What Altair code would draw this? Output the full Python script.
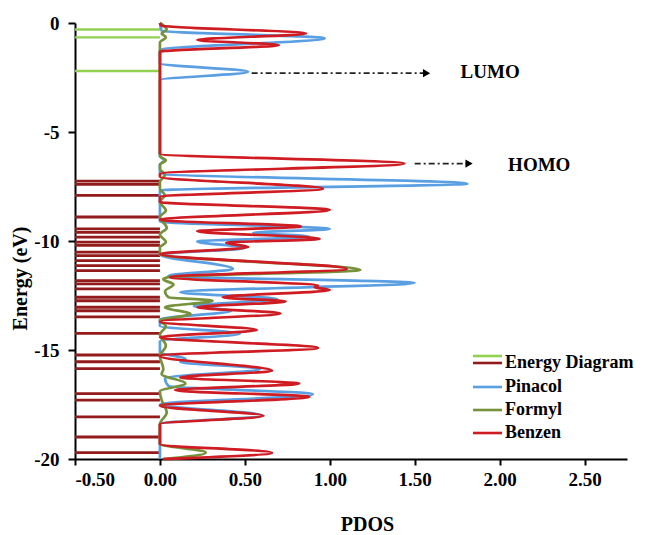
import altair as alt
import pandas as pd

# ---------------- data ----------------
# Energy diagram levels (eV)
lumo_levels = [-0.30, -0.66, -2.20]
homo_levels = [-7.25, -7.40, -7.91, -8.90, -9.44, -9.60, -9.82, -10.05, -10.20,
               -10.51, -10.67, -10.90, -11.13, -11.36, -11.82, -11.97, -12.20,
               -12.58, -12.74, -13.04, -13.20, -13.48, -14.24, -15.23, -15.54,
               -15.85, -17.00, -17.30, -18.07, -18.99, -19.71]

# PDOS curves: energy (eV) and PDOS value at peaks / valleys
pinacol_e = [0.0, -0.35, -0.70, -1.24, -1.85, -2.24, -2.62, -6.10, -6.30, -6.50,
             -6.90, -7.37, -7.68, -9.10, -9.45, -9.62, -9.80, -10.02, -10.32,
             -10.62, -11.28, -11.60, -11.92, -12.35, -12.66, -12.98, -13.20,
             -13.60, -13.90, -14.25, -14.60, -15.10, -15.42, -15.55, -15.87,
             -16.30, -16.65, -17.03, -17.50, -18.00, -18.40, -20.00]
pinacol_p = [0.0, 0.01, 0.97, 0.0, 0.0, 0.52, 0.0, 0.0, 0.025, 0.0,
             0.0, 1.81, 0.0, 0.0, 1.00, 0.55, 0.88, 0.22, 0.50,
             0.0, 0.43, 0.05, 1.50, 0.12, 0.69, 0.20, 0.42,
             0.0, 0.0, 0.47, 0.0, 0.0, 0.15, 0.12, 0.59,
             0.03, 0.05, 0.90, 0.0, 0.60, 0.0, 0.0]

formyl_e = [0.0, -0.30, -0.48, -0.65, -0.90, -6.10, -6.30, -6.50, -6.70, -6.95,
            -7.30, -7.60, -7.90, -8.20, -8.60, -8.90, -9.40, -9.70, -10.05,
            -10.30, -10.60, -11.33, -11.66, -11.75, -12.00, -12.30, -12.58,
            -12.74, -13.04, -13.35, -13.65, -13.90, -14.30, -14.80, -15.27,
            -15.88, -16.10, -16.54, -16.90, -17.30, -17.87, -18.40, -19.30,
            -19.71, -20.00]
formyl_p = [0.0, 0.04, 0.01, 0.035, 0.0, 0.0, 0.035, 0.0, 0.0, 0.03,
            0.0, 0.0, 0.03, 0.0, 0.035, 0.0, 0.04, 0.0, 0.035,
            0.0, 0.0, 1.18, 0.05, 0.02, 0.08, 0.03, 0.05,
            0.31, 0.03, 0.18, 0.0, 0.035, 0.0, 0.035, 0.0,
            0.02, 0.01, 0.15, 0.0, 0.01, 0.04, 0.0, 0.0,
            0.27, 0.02]

benzen_e = [0.0, -0.12, -0.48, -0.78, -1.01, -1.32, -6.00, -6.45, -6.92, -7.05,
            -7.60, -7.98, -8.21, -8.57, -9.03, -9.33, -9.55, -9.90, -10.08,
            -10.28, -10.60, -11.28, -11.66, -12.05, -12.12, -12.25, -12.58,
            -12.77, -13.04, -13.32, -13.70, -14.08, -14.42, -14.91, -15.27,
            -15.95, -16.26, -16.54, -16.84, -17.15, -17.56, -18.02, -18.40,
            -19.32, -19.71, -20.00]
benzen_p = [0.0, 0.01, 0.86, 0.22, 0.70, 0.0, 0.0, 1.44, 0.0, 0.0,
            0.96, 0.0, 0.0, 1.00, 0.0, 0.83, 0.22, 0.94, 0.39,
            0.52, 0.0, 1.10, 0.06, 0.93, 0.91, 1.00, 0.37,
            0.74, 0.22, 0.71, 0.0, 0.57, 0.0, 0.93, 0.0,
            0.66, 0.12, 0.82, 0.09, 0.88, 0.0, 0.61, 0.0,
            0.0, 0.66, 0.02]

x_ticks = [-0.5, 0.0, 0.5, 1.0, 1.5, 2.0, 2.5]
y_ticks = [0, -5, -10, -15, -20]

legend_labels = ["Energy Diagram", "Pinacol", "Formyl", "Benzen"]

# ---------------- style ----------------
FONT = "Liberation Serif"
C_LUMO = "#92D050"
C_HOMO = "#931B1B"
C_PIN = "#5B9FE3"
C_FOR = "#76923C"
C_BEN = "#CF1B22"

x_scale = alt.Scale(domain=[-0.5, 2.75], nice=False, zero=False)
y_scale = alt.Scale(domain=[-20, 0], nice=False, zero=False)

x_axis = alt.Axis(values=x_ticks, format=".2f",
                  labelExpr="replace(datum.label, '\u2212', '-')",
                  title="PDOS", titleX=292, titleY=65, titleBaseline="middle",
                  grid=False, tickSize=6, labelPadding=5)
y_axis = alt.Axis(values=y_ticks, format="d",
                  labelExpr="replace(datum.label, '\u2212', '-')",
                  title="Energy (eV)", titleX=-55, titleY=255, titleAngle=-90,
                  titleBaseline="middle", grid=False, tickSize=7, labelPadding=9)

levels_lumo = pd.DataFrame({"E": lumo_levels})
levels_homo = pd.DataFrame({"E": homo_levels})


def rules(df, color, width):
    return alt.Chart(df).mark_rule(color=color, strokeWidth=width).encode(
        x=alt.X(datum=-0.5, type="quantitative", scale=x_scale, axis=x_axis),
        x2=alt.X2(datum=0.0),
        y=alt.Y("E:Q", scale=y_scale, axis=y_axis),
    )


def curve(es, ps, color):
    # zero-width horizontal area: its outline is the PDOS curve, smoothed along energy
    df = pd.DataFrame({"E": es, "P": ps})
    return alt.Chart(df).mark_area(color=color, filled=False, strokeWidth=2.7,
                                   interpolate="monotone", orient="horizontal").encode(
        x=alt.X("P:Q", scale=x_scale, axis=x_axis),
        x2=alt.X2("P:Q"),
        y=alt.Y("E:Q", scale=y_scale, axis=y_axis),
    )


layers = [
    rules(levels_homo, C_HOMO, 2.8),
    rules(levels_lumo, C_LUMO, 2.4),
    curve(pinacol_e, pinacol_p, C_PIN),
    curve(formyl_e, formyl_p, C_FOR),
    curve(benzen_e, benzen_p, C_BEN),
]

# annotation arrows (data space)
arrows = pd.DataFrame({"x": [0.54, 1.50], "x2": [1.57, 1.82], "E": [-2.30, -6.45],
                       "label": ["LUMO", "HOMO"], "tx": [1.77, 2.05], "tE": [-2.25, -6.52]})
layers.append(alt.Chart(arrows).mark_rule(color="#222222", strokeWidth=1.6,
                                          strokeDash=[6, 3, 2, 3]).encode(
    x="x:Q", x2="x2:Q", y="E:Q"))
layers.append(alt.Chart(arrows).mark_point(shape="triangle-right", filled=True,
                                           color="black", size=70, opacity=1).encode(
    x="x2:Q", y="E:Q"))
layers.append(alt.Chart(arrows).mark_text(font=FONT, fontWeight="bold", fontSize=19,
                                          align="left", baseline="middle",
                                          color="black").encode(
    x="tx:Q", y="tE:Q", text="label:N"))

# legend (drawn by hand, positions in plot-area pixels)
leg_x0, leg_x1, leg_tx = 398, 427, 430
leg_rows = [340, 364, 387, 410]
leg_colors = [C_HOMO, C_PIN, C_FOR, C_BEN]
ref = pd.DataFrame({"a": [0]})
for lab, yy, col in zip(legend_labels, leg_rows, leg_colors):
    layers.append(alt.Chart(ref).mark_rule(color=col, strokeWidth=2.6).encode(
        x=alt.value(leg_x0), x2=alt.value(leg_x1), y=alt.value(yy)))
    layers.append(alt.Chart(ref).mark_text(font=FONT, fontWeight="bold", fontSize=18,
                                           align="left", baseline="middle",
                                           color="black", text=lab).encode(
        x=alt.value(leg_tx), y=alt.value(yy)))
layers.append(alt.Chart(ref).mark_rule(color=C_LUMO, strokeWidth=2.6).encode(
    x=alt.value(leg_x0), x2=alt.value(leg_x1), y=alt.value(333)))

chart = alt.layer(*layers).properties(
    width=552, height=436,
    autosize=alt.AutoSizeParams(type="none"),
    padding={"left": 67, "top": 15, "right": 13, "bottom": 80},
).configure_view(stroke=None).configure_axis(
    labelFont=FONT, labelFontSize=19, labelFontWeight="bold", labelColor="black",
    titleFont=FONT, titleFontSize=20, titleFontWeight="bold", titleColor="black",
    domainColor="black", domainWidth=2, tickColor="black", tickWidth=2,
)

chart.save("out.html", embed_options={"renderer": "svg", "actions": False})
